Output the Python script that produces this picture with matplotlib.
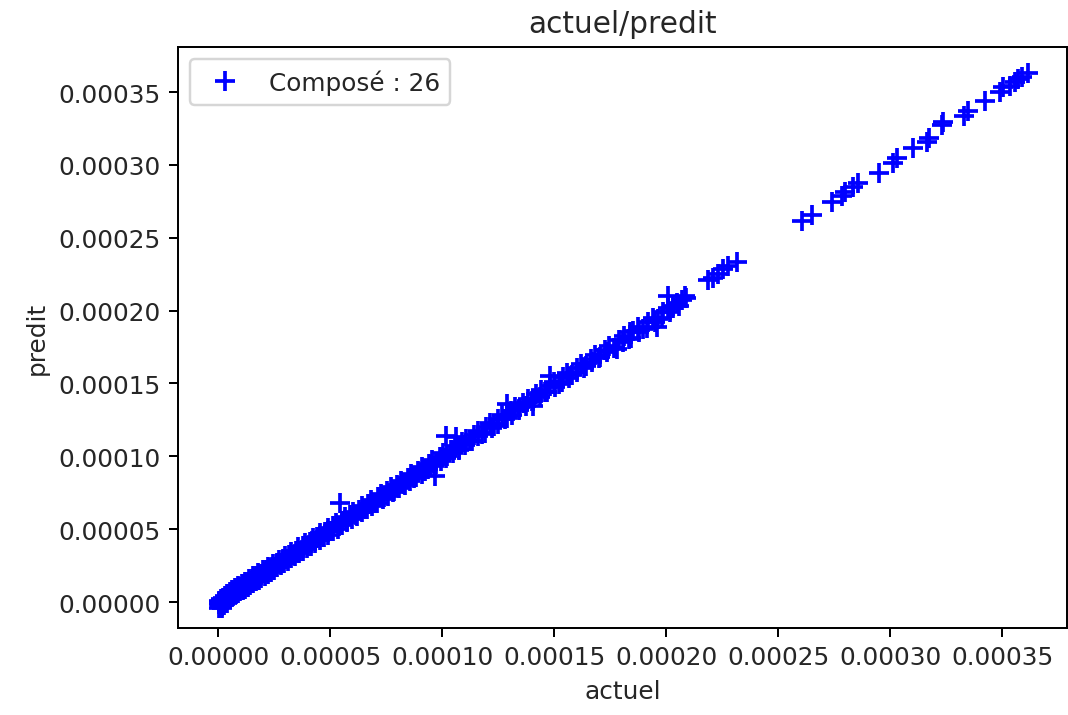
import numpy as np
import matplotlib
matplotlib.use("Agg")
import matplotlib.pyplot as plt
from matplotlib.ticker import MultipleLocator, FormatStrFormatter

# Values in micro-units (x 1e-6)
dense_actuel = [
    0.3, 0.6, 0.9, 1.2, 1.5, 1.8, 2.1, 2.4, 2.8, 3.1, 3.4, 3.8, 4.1, 4.5, 4.9, 5.2, 5.6, 6.0,
    6.4, 6.8, 7.2, 7.7, 8.1, 8.6, 9.0, 9.5, 10.0, 10.5, 11.0, 11.6, 12.1, 12.7, 13.3, 13.9,
    14.5, 15.1, 15.8, 16.4, 17.1, 17.8, 18.5, 19.2, 20.0, 20.7, 21.5, 22.3, 23.1, 23.9, 24.7,
    25.6, 26.4, 27.3, 28.2, 29.1, 30.0, 30.9, 31.9, 32.8, 33.8, 34.8, 35.8, 36.8, 37.9, 38.9,
    40.0, 41.1, 42.2, 43.3, 44.4, 45.6, 46.7, 47.9, 49.1, 50.3, 51.5, 52.7, 54.0, 55.2, 56.5,
    57.8, 59.1, 60.4, 61.7, 63.0, 64.4, 65.7, 67.1, 68.5, 69.9, 71.3, 72.7, 74.2, 75.6, 77.1,
    78.6, 80.1, 81.6, 83.1, 84.6, 86.2, 87.7, 89.3, 90.9, 92.5, 94.1, 95.7, 97.3, 99.0, 100.6,
    102.3, 104.0, 105.7, 107.4, 109.1, 110.8, 112.6, 114.3, 116.1, 117.9, 119.7, 121.5, 123.3,
    125.1, 127.0, 128.8, 130.7, 132.6, 134.4, 136.3, 138.2, 140.2, 142.1, 144.1, 146.0, 148.0,
    150.0, 152.0, 154.0, 156.0, 158.0, 160.1, 162.1, 164.2, 166.3, 168.4, 170.5, 172.6, 174.7,
    176.8, 179.0, 181.1, 183.3, 185.4, 187.6, 189.8, 192.0, 194.2, 196.4, 198.6, 200.8, 203.0,
    205.0, 207.0, 209.0,
]
dense_predit = [
    -1.2, 0.9, -2.5, 1.8, -0.4, -3.0, 2.6, 0.3, -1.9, 3.9, 1.2, -0.8, 5.2, 2.9, 3.6, 6.8, 4.1, 5.0,
    8.3, 5.9, 7.6, 9.9, 6.8, 8.9, 11.2, 8.1, 10.4, 12.6, 9.8, 11.9, 14.0, 11.5, 13.9, 15.8,
    13.2, 15.6, 17.9, 15.1, 17.6, 19.9, 17.2, 19.5, 21.8, 19.6, 21.9, 24.1, 21.8, 24.3, 26.2,
    24.1, 26.8, 29.0, 26.5, 29.4, 31.8, 29.4, 32.1, 34.6, 32.2, 35.1, 37.5, 35.0, 38.2, 40.6,
    38.3, 41.4, 43.9, 41.6, 44.7, 47.4, 44.9, 48.3, 50.8, 48.4, 51.9, 54.3, 52.1, 55.6, 58.2,
    55.7, 59.4, 62.0, 59.6, 63.4, 66.1, 63.9, 67.5, 70.1, 67.7, 71.8, 74.4, 72.0, 76.1, 78.6,
    76.4, 80.5, 83.2, 80.7, 85.0, 87.8, 85.4, 89.7, 92.4, 90.0, 94.5, 97.2, 95.0, 99.5, 102.0,
    100.0, 104.4, 107.0, 105.1, 109.6, 112.2, 110.3, 114.8, 117.6, 115.5, 120.1, 122.8, 120.9,
    125.6, 128.3, 126.5, 131.2, 133.9, 132.2, 136.8, 139.6, 137.9, 142.6, 145.4, 143.8, 148.4,
    151.3, 149.6, 154.5, 157.2, 155.6, 160.6, 163.3, 161.7, 166.8, 169.5, 168.0, 173.1, 175.8,
    174.3, 179.5, 182.3, 180.7, 186.0, 188.6, 187.3, 192.5, 195.2, 194.0, 199.1, 201.7, 201.6,
    205.4, 207.6, 208.5,
]

# Second pass through the band, mostly just under the diagonal
band_actuel = [
    0.4, 1.0, 1.7, 2.5, 3.3, 4.2, 5.0, 5.9, 6.9, 7.9, 8.9, 9.9, 11.0, 12.1, 13.2, 14.4,
    15.6, 16.8, 18.1, 19.4, 20.8, 22.1, 23.5, 25.0, 26.5, 28.0, 29.6, 31.2, 32.8, 34.5,
    36.2, 38.0, 39.8, 41.6, 43.5, 45.4, 47.3, 49.3, 51.3, 53.4, 55.5, 57.6, 59.8, 62.0,
    64.2, 66.5, 68.8, 71.1, 73.5, 75.9, 78.3, 80.8, 83.3, 85.8, 88.4, 91.0, 93.6, 96.3,
    99.4, 102.0, 104.8, 107.6, 110.4, 113.3, 116.2, 119.1, 122.1, 125.1, 128.1, 131.2,
    134.3, 137.4, 140.6, 143.8, 147.0, 150.3, 153.5, 156.8, 160.2, 163.5, 166.9, 170.3,
    173.8, 177.2, 180.7, 184.2, 187.8, 191.3, 194.9, 198.0, 201.9, 205.8,
]
band_predit = [
    -3.8, -1.6, -4.2, -0.9, 0.6, 1.1, 2.0, 3.4, 3.9, 5.6, 6.1, 7.3, 8.4, 9.2, 10.5, 11.6,
    12.9, 14.2, 15.3, 16.8, 18.0, 19.3, 20.9, 22.1, 23.8, 25.2, 26.9, 28.3, 30.1, 31.6,
    33.4, 35.1, 37.0, 38.6, 40.7, 42.4, 44.5, 46.3, 48.6, 50.4, 52.7, 54.6, 57.0, 59.1,
    61.5, 63.5, 66.1, 68.2, 70.8, 72.9, 75.6, 77.9, 80.6, 82.9, 85.8, 88.1, 91.0, 93.4,
    96.7, 99.1, 102.2, 104.6, 107.8, 110.3, 113.6, 116.1, 119.5, 122.0, 125.5, 128.1,
    131.7, 134.3, 138.0, 140.8, 144.4, 147.3, 151.0, 153.9, 157.7, 160.6, 164.4, 167.4,
    171.3, 174.2, 178.2, 181.1, 185.2, 188.2, 192.3, 195.1, 199.3, 203.1,
]

# Scattered points off the main band
outlier_actuel = [54.5, 96.9, 101.8, 106.3, 128.9, 140.8, 148.2, 178.0, 183.9, 195.8, 201.0, 208.5, 203.3]
outlier_predit = [67.9, 86.3, 113.7, 113.5, 135.9, 134.7, 155.3, 173.6, 185.1, 188.5, 210.2, 210.2, 203.3]

# Sparse high-value points
high_actuel = [
    218.8, 221.0, 223.3, 225.6, 227.8, 231.6,
    260.6, 265.0, 274.0, 278.4, 279.9, 283.6, 285.9, 295.1, 301.5, 303.3, 310.4, 316.7,
    317.5, 323.1, 323.5, 333.0, 335.0, 342.4, 349.1, 350.6, 353.6, 355.8, 357.3, 358.8, 361.7,
]
high_predit = [
    221.0, 222.3, 225.1, 228.5, 230.8, 233.1,
    261.7, 265.6, 274.7, 278.8, 281.2, 284.6, 287.5, 294.4, 301.3, 304.5, 311.4, 315.9,
    318.2, 327.3, 329.6, 333.3, 337.2, 344.0, 349.8, 353.2, 354.3, 356.6, 358.9, 360.1, 363.0,
]

UNIT = 1e-6
actuel = np.array(dense_actuel + band_actuel + outlier_actuel + high_actuel) * UNIT
predit = np.array(dense_predit + band_predit + outlier_predit + high_predit) * UNIT

fig = plt.figure(figsize=(1068 / 178, 716 / 178), dpi=178)
ax = fig.add_axes([178 / 1068, 1 - 629 / 716, (1067 - 178) / 1068, (629 - 48) / 716])

ax.plot(actuel, predit, '+', color='blue', markersize=8, markeredgewidth=1.5,
        label='Composé : 26')

ax.set_xlim(-1.786e-5, 3.79e-4)
ax.set_ylim(-1.784e-5, 3.809e-4)
ax.xaxis.set_major_locator(MultipleLocator(5e-5))
ax.yaxis.set_major_locator(MultipleLocator(5e-5))
ax.xaxis.set_major_formatter(FormatStrFormatter('%.5f'))
ax.yaxis.set_major_formatter(FormatStrFormatter('%.5f'))
ax.tick_params(labelcolor='#262626')

ax.set_title('actuel/predit', color='#262626')
ax.set_xlabel('actuel', color='#262626')
ax.set_ylabel('predit', color='#262626')
leg = ax.legend(loc='upper left')
for t in leg.get_texts():
    t.set_color('#262626')

fig.savefig('out.png', dpi=178)
